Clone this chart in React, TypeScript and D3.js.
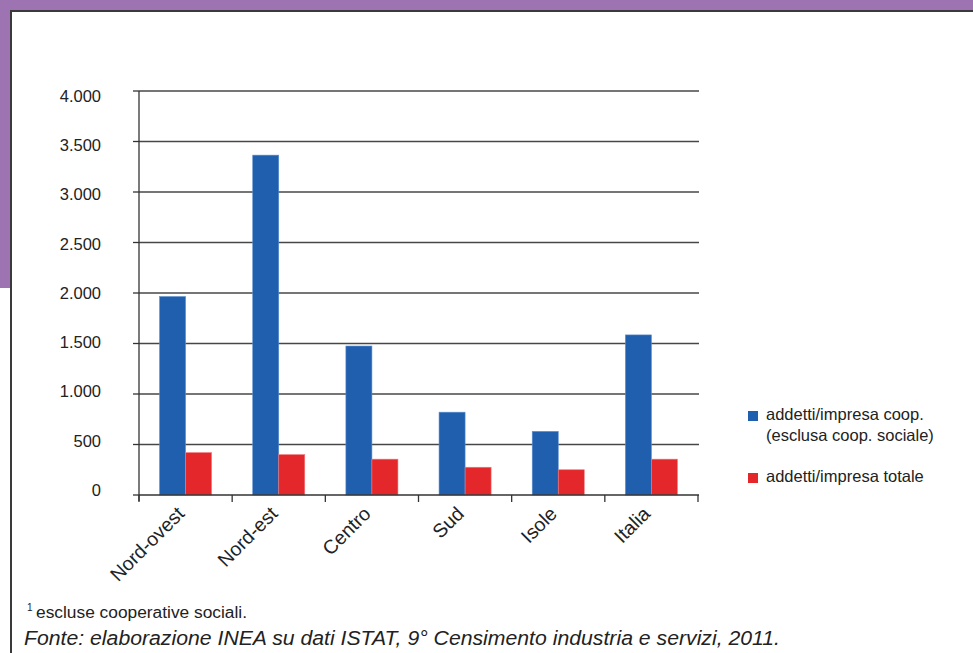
import React from "react";
import * as d3 from "d3";

const categories = ["Nord-ovest", "Nord-est", "Centro", "Sud", "Isole", "Italia"];
const seriesNames = ["addetti/impresa coop.", "addetti/impresa totale"];
const coopValues = [1965, 3365, 1475, 820, 630, 1585];
const totalValues = [420, 400, 355, 275, 250, 355];
const yTicks = [0, 500, 1000, 1500, 2000, 2500, 3000, 3500, 4000];
const yTickLabels = ["0", "500", "1.000", "1.500", "2.000", "2.500", "3.000", "3.500", "4.000"];
const footnote = "escluse cooperative sociali.";
const source = "Fonte: elaborazione INEA su dati ISTAT, 9° Censimento industria e servizi, 2011.";

const BLUE = "#1f5fae";
const RED = "#e4272b";
const PURPLE = "#9d74b1";
const FONT = "'Liberation Sans', Arial, sans-serif";

export default function App() {
  const left = 139, right = 698, top = 91, bottom = 495;
  const x0 = d3.scaleBand<string>().domain(categories).range([left, right]).paddingInner(0).paddingOuter(0);
  const x1 = d3.scaleBand<string>().domain(seriesNames).range([0, x0.bandwidth()]).paddingInner(0).paddingOuter(0.79);
  const y = d3.scaleLinear().domain([0, 4000]).range([bottom, top]);
  const yLab = d3.scaleLinear().domain([0, 4000]).range([490, 96]);
  const series = [
    { name: seriesNames[0], values: coopValues, color: BLUE, stroke: "#5e8fd0" },
    { name: seriesNames[1], values: totalValues, color: RED, stroke: "#f07c7e" },
  ];
  const boundaries = categories.map((c) => x0(c) as number).concat([right]);

  return (
    <svg width={973} height={653} style={{ position: "absolute", left: 0, top: 0, background: "#fff" }}>
      {/* frame */}
      <rect x={0} y={0} width={973} height={10} fill={PURPLE} />
      <rect x={0} y={0} width={10} height={288} fill={PURPLE} />
      <line x1={11} x2={973} y1={11} y2={11} stroke="#3a3a3a" strokeWidth={2} />
      <line x1={11} x2={11} y1={10} y2={653} stroke="#3a3a3a" strokeWidth={2} />

      {/* gridlines & y ticks */}
      {yTicks.map((t, i) => (
        <g key={t}>
          {t > 0 && (
            <line x1={left} x2={right + 1} y1={y(t)} y2={y(t)} stroke="#474747" strokeWidth={1.4} />
          )}
          <line x1={left - 6} x2={left} y1={y(t)} y2={y(t)} stroke="#333" strokeWidth={1.3} />
          <text x={101} y={yLab(t)} dy="0.36em" textAnchor="end" fontFamily={FONT} fontSize={16.5} fill="#222">
            {yTickLabels[i]}
          </text>
        </g>
      ))}

      {/* bars */}
      {categories.map((c, i) => (
        <g key={c} transform={`translate(${x0(c)},0)`}>
          {series.map((s) => (
            <rect
              key={s.name}
              x={x1(s.name)}
              y={y(s.values[i])}
              width={x1.bandwidth()}
              height={bottom - y(s.values[i])}
              fill={s.color}
              stroke={s.stroke}
              strokeWidth={0.6}
            />
          ))}
        </g>
      ))}

      {/* axes */}
      <line x1={left} x2={left} y1={top} y2={bottom + 6} stroke="#333" strokeWidth={1.3} />
      <line x1={left} x2={right + 1} y1={bottom} y2={bottom} stroke="#333" strokeWidth={1.5} />
      {boundaries.map((b, i) => (
        <line key={i} x1={b} x2={b} y1={bottom} y2={bottom + 7} stroke="#333" strokeWidth={1.3} />
      ))}
      {categories.map((c) => {
        const cx = (x0(c) as number) + x0.bandwidth() / 2;
        return (
          <text
            key={c}
            transform={`translate(${cx},${bottom + 20}) rotate(-45)`}
            textAnchor="end"
            fontFamily={FONT}
            fontSize={19.5}
            fill="#222"
          >
            {c}
          </text>
        );
      })}

      {/* legend */}
      <rect x={748} y={411} width={10} height={10} fill={BLUE} />
      <text x={766} y={420} fontFamily={FONT} fontSize={16.5} fill="#222">{seriesNames[0]}</text>
      <text x={766} y={441} fontFamily={FONT} fontSize={16.5} fill="#222">(esclusa coop. sociale)</text>
      <rect x={748} y={473} width={10} height={10} fill={RED} />
      <text x={766} y={482} fontFamily={FONT} fontSize={16.5} fill="#222">{seriesNames[1]}</text>

      {/* footnotes */}
      <text x={27} y={611} fontFamily={FONT} fontSize={10} fill="#222">1</text>
      <text x={36} y={618} fontFamily={FONT} fontSize={16} textLength={211} lengthAdjust="spacingAndGlyphs" fill="#222">{footnote}</text>
      <text x={24} y={645} fontFamily={FONT} fontSize={19.5} fontStyle="italic" textLength={756} lengthAdjust="spacingAndGlyphs" fill="#222">{source}</text>
    </svg>
  );
}
